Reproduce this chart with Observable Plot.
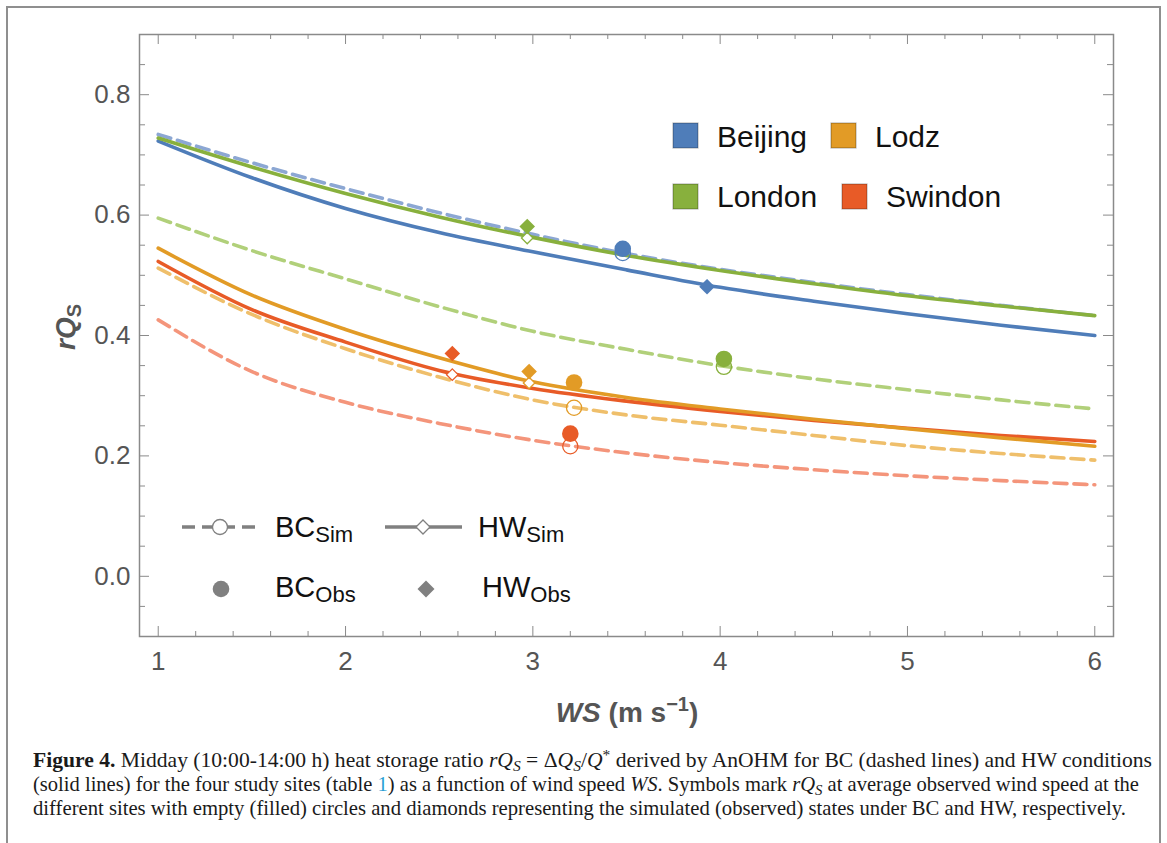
<!DOCTYPE html>
<html><head><meta charset="utf-8">
<script src="https://cdn.jsdelivr.net/npm/d3@7"></script>
<script src="https://cdn.jsdelivr.net/npm/@observablehq/plot@0.6"></script>
<style>
body{margin:0;background:#fff;width:1167px;height:843px;overflow:hidden;position:relative;font-family:"Liberation Sans",Arial,sans-serif;}
#border{position:absolute;left:6px;top:6px;width:1155px;height:900px;border:2px solid #8f8f8f;box-sizing:border-box;}
#chart{position:absolute;left:0;top:0;}
#overlay{position:absolute;left:0;top:0;}
#caption{position:absolute;left:33px;top:748px;font-family:"Liberation Serif","Times New Roman",serif;font-size:21px;line-height:24px;color:#1a1a1a;white-space:nowrap;}
#caption .ln{display:block;width:max-content;transform-origin:0 50%;}
#caption sub{font-size:0.72em;vertical-align:-0.28em;line-height:0;}
#caption sup{font-size:0.72em;vertical-align:0.45em;line-height:0;}
</style></head><body>
<div id="border"></div>
<div id="chart"></div>
<svg id="overlay" width="1167" height="843"></svg>
<div id="caption"><span class="ln" data-w="1119"><b>Figure 4.</b> Midday (10:00-14:00 h) heat storage ratio <i>rQ<sub>S</sub></i> = Δ<i>Q<sub>S</sub></i>/<i>Q</i><sup>*</sup> derived by AnOHM for BC (dashed lines) and HW conditions</span><span class="ln" data-w="1106">(solid lines) for the four study sites (table <span style="color:#2b9fd4">1</span>) as a function of wind speed <i>WS</i>. Symbols mark <i>rQ<sub>S</sub></i> at average observed wind speed at the</span><span class="ln" data-w="1093">different sites with empty (filled) circles and diamonds representing the simulated (observed) states under BC and HW, respectively.</span></div>
<script>
// ---- data ----
const ws = [1, 1.5, 2, 2.5, 3, 3.5, 4, 4.5, 5, 5.5, 6];
const beijingBC = [0.734, 0.687, 0.644, 0.604, 0.568, 0.536, 0.510, 0.488, 0.468, 0.450, 0.433];
const beijingHW = [0.723, 0.662, 0.611, 0.571, 0.539, 0.509, 0.480, 0.457, 0.436, 0.417, 0.400];
const londonBC  = [0.595, 0.541, 0.494, 0.448, 0.407, 0.377, 0.350, 0.328, 0.310, 0.293, 0.278];
const londonHW  = [0.728, 0.680, 0.636, 0.597, 0.563, 0.533, 0.508, 0.486, 0.466, 0.449, 0.433];
const lodzBC    = [0.512, 0.435, 0.378, 0.331, 0.293, 0.268, 0.251, 0.234, 0.217, 0.204, 0.193];
const lodzHW    = [0.545, 0.467, 0.410, 0.363, 0.323, 0.297, 0.278, 0.261, 0.245, 0.230, 0.216];
const swindonBC = [0.426, 0.340, 0.289, 0.254, 0.226, 0.205, 0.189, 0.177, 0.167, 0.159, 0.152];
const swindonHW = [0.523, 0.443, 0.389, 0.342, 0.312, 0.291, 0.274, 0.259, 0.246, 0.234, 0.224];

const sites   = ["Beijing", "Lodz", "London", "Swindon"];
const bcWS    = [3.48, 3.22, 4.02, 3.20];
const bcSim   = [0.537, 0.280, 0.348, 0.216];
const bcObs   = [0.544, 0.322, 0.361, 0.237];
const hwWS    = [3.93, 2.98, 2.97, 2.57];
const hwSim   = [0.482, 0.321, 0.562, 0.335];
const hwObs   = [0.481, 0.340, 0.581, 0.370];

const xMajor = [1, 2, 3, 4, 5, 6];
const xMinor = [1.2, 1.4, 1.6, 1.8, 2.2, 2.4, 2.6, 2.8, 3.2, 3.4, 3.6, 3.8, 4.2, 4.4, 4.6, 4.8, 5.2, 5.4, 5.6, 5.8];
const yMajor = [0, 0.2, 0.4, 0.6, 0.8];
const yMinor = [-0.05, 0.05, 0.1, 0.15, 0.25, 0.3, 0.35, 0.45, 0.5, 0.55, 0.65, 0.7, 0.75, 0.85];

// ---- styles ----
const solidColor = {Beijing: "#4f7db9", Lodz: "#e29b26", London: "#88b03d", Swindon: "#e85b27"};
const dashColor  = {Beijing: "#8ca7d3", Lodz: "#efbf6b", London: "#b1d07a", Swindon: "#f4957b"};
const bcSeries = {Beijing: beijingBC, Lodz: lodzBC, London: londonBC, Swindon: swindonBC};
const hwSeries = {Beijing: beijingHW, Lodz: lodzHW, London: londonHW, Swindon: swindonHW};

const W = 1167, H = 745;
const frameTop = 34, frameBottom = 636, frameLeft = 139, frameRight = 1113;
const fw = frameRight - frameLeft, fh = frameBottom - frameTop;
const tickGray = "#8a8a8a";

const rows = (arr) => ws.map((x, i) => ({ws: x, r: arr[i]}));
const pts = (xs, ys) => sites.map((s, i) => ({site: s, ws: xs[i], r: ys[i], color: solidColor[s]}));

const dashedOrder = ["London", "Lodz", "Swindon", "Beijing"];
const solidOrder = ["Beijing", "Swindon", "Lodz", "London"];

const marks = [
  Plot.frame({stroke: tickGray, strokeWidth: 1.5}),
  Plot.tickX(xMajor, {x: d => d, stroke: tickGray, insetTop: fh - 10}),
  Plot.tickX(xMinor, {x: d => d, stroke: tickGray, insetTop: fh - 5}),
  Plot.tickX(xMajor, {x: d => d, stroke: tickGray, insetBottom: fh - 10}),
  Plot.tickX(xMinor, {x: d => d, stroke: tickGray, insetBottom: fh - 5}),
  Plot.tickY(yMajor, {y: d => d, stroke: tickGray, insetRight: fw - 10}),
  Plot.tickY(yMinor, {y: d => d, stroke: tickGray, insetRight: fw - 6}),
  Plot.tickY(yMajor, {y: d => d, stroke: tickGray, insetLeft: fw - 10}),
  Plot.tickY(yMinor, {y: d => d, stroke: tickGray, insetLeft: fw - 6}),
  Plot.axisX({ticks: xMajor, tickSize: 0, tickPadding: 15, tickFormat: d => String(d), label: null, fill: "#555", fontSize: 26}),
  Plot.axisY({ticks: yMajor, tickSize: 0, tickPadding: 9, tickFormat: d3.format(".1f"), label: null, fill: "#555", fontSize: 26}),
  ...dashedOrder.map(s => Plot.line(rows(bcSeries[s]), {x: "ws", y: "r", stroke: dashColor[s], strokeWidth: 3.6, strokeDasharray: "13,7", curve: "monotone-x"})),
  ...solidOrder.map(s => Plot.line(rows(hwSeries[s]), {x: "ws", y: "r", stroke: solidColor[s], strokeWidth: 3.6, curve: "monotone-x"})),
  Plot.dot(pts(bcWS, bcSim), {x: "ws", y: "r", r: 7.6, stroke: "color", fill: "none", strokeWidth: 1.3}),
  Plot.dot(pts(hwWS, hwSim), {x: "ws", y: "r", r: 5.2, symbol: "diamond2", stroke: "color", fill: "white", strokeWidth: 1.3}),
  Plot.dot(pts(bcWS, bcObs), {x: "ws", y: "r", r: 8.3, fill: "color", stroke: "none"}),
  Plot.dot(pts(hwWS, hwObs), {x: "ws", y: "r", r: 7, symbol: "diamond2", fill: "color", stroke: "none"})
];

const chart = Plot.plot({
  width: W, height: H,
  marginLeft: frameLeft, marginRight: W - frameRight, marginTop: frameTop, marginBottom: H - frameBottom,
  x: {domain: [0.9, 6.1]},
  y: {domain: [-0.1, 0.9]},
  color: {type: "identity"},
  style: {fontFamily: "'Liberation Sans', Arial, sans-serif", background: "transparent", overflow: "visible"},
  marks
});
document.getElementById("chart").appendChild(chart);

// ---- overlay: axis titles and legends ----
const svg = d3.select("#overlay");
const font = "'Liberation Sans', Arial, sans-serif";

// y title
const yt = svg.append("text").attr("transform", "translate(75,327) rotate(-90)")
  .attr("text-anchor", "middle").attr("font-family", font).attr("font-weight", "bold")
  .attr("font-size", 28).attr("fill", "#555");
yt.append("tspan").attr("font-style", "italic").text("rQ");
yt.append("tspan").attr("font-size", 20).attr("dy", 6).text("S");

// x title
const xt = svg.append("text").attr("x", 627).attr("y", 722).attr("text-anchor", "middle")
  .attr("font-family", font).attr("font-weight", "bold").attr("font-size", 28).attr("fill", "#555");
xt.append("tspan").attr("font-style", "italic").text("WS");
xt.append("tspan").text(" (m s");
xt.append("tspan").attr("font-size", 20).attr("dy", -11).text("\u22121");
xt.append("tspan").attr("dy", 11).text(")");

// site legend
const siteLegend = [
  {site: "Beijing", sx: 673, sy: 123, tx: 717, ty: 147},
  {site: "Lodz", sx: 831, sy: 123, tx: 875, ty: 147},
  {site: "London", sx: 673, sy: 184, tx: 717, ty: 207},
  {site: "Swindon", sx: 842, sy: 184, tx: 886, ty: 207}
];
siteLegend.forEach(d => {
  svg.append("rect").attr("x", d.sx).attr("y", d.sy).attr("width", 25).attr("height", 25)
    .attr("fill", solidColor[d.site]).attr("stroke", "rgba(0,0,0,0.28)").attr("stroke-width", 1.2);
  svg.append("text").attr("x", d.tx).attr("y", d.ty).attr("font-family", font).attr("font-size", 30)
    .attr("fill", "#111").text(d.site);
});

// condition legend
const g = "#808080";
svg.append("line").attr("x1", 182).attr("x2", 257).attr("y1", 527).attr("y2", 527)
  .attr("stroke", g).attr("stroke-width", 3.6).attr("stroke-dasharray", "13,7");
svg.append("circle").attr("cx", 220).attr("cy", 527).attr("r", 7.5).attr("fill", "white").attr("stroke", g).attr("stroke-width", 1.3);
svg.append("line").attr("x1", 385).attr("x2", 462).attr("y1", 527).attr("y2", 527)
  .attr("stroke", g).attr("stroke-width", 3.6);
svg.append("path").attr("d", "M423,520L430,527L423,534L416,527Z").attr("fill", "white").attr("stroke", g).attr("stroke-width", 1.3);
svg.append("circle").attr("cx", 221).attr("cy", 589).attr("r", 8.3).attr("fill", g);
svg.append("path").attr("d", "M426,580.5L434.5,589L426,597.5L417.5,589Z").attr("fill", g);

function subLabel(x, y, main, sub) {
  const t = svg.append("text").attr("x", x).attr("y", y).attr("font-family", font).attr("font-size", 29).attr("fill", "#111");
  t.append("tspan").text(main);
  t.append("tspan").attr("font-size", 22).attr("dy", 5).text(sub);
}
subLabel(275, 537, "BC", "Sim");
subLabel(478, 537, "HW", "Sim");
subLabel(275, 597, "BC", "Obs");
subLabel(482, 597, "HW", "Obs");

// fit caption lines to the reference line widths
document.querySelectorAll("#caption .ln").forEach(el => {
  const w = el.getBoundingClientRect().width;
  const target = +el.dataset.w;
  if (w > 0) el.style.transform = `scaleX(${target / w})`;
});
</script>
</body></html>
